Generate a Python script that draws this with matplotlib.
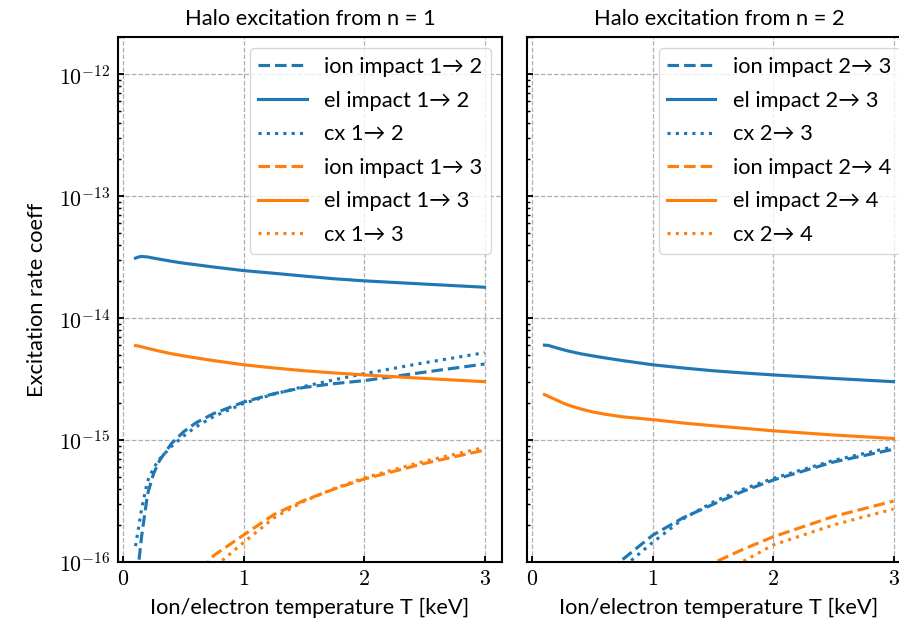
import matplotlib
matplotlib.use("Agg")
import matplotlib.pyplot as plt
from matplotlib.ticker import FuncFormatter, NullFormatter
import numpy as np

# ---------------- data ----------------
T = [0.1, 0.125, 0.15, 0.2, 0.25, 0.3, 0.4, 0.5, 0.6, 0.75, 1.0,
     1.25, 1.5, 1.75, 2.0, 2.5, 3.0]

# excitation from n = 1
ion_1_2 = [3e-17, 9.5e-17, 1.6e-16, 3.6e-16, 5.3e-16, 6.8e-16, 9.4e-16, 1.17e-15,
           1.38e-15, 1.65e-15, 2.05e-15, 2.4e-15, 2.7e-15, 2.9e-15, 3.07e-15,
           3.6e-15, 4.2e-15]
el_1_2 = [3.10e-14, 3.17e-14, 3.20e-14, 3.17e-14, 3.10e-14, 3.04e-14, 2.92e-14,
          2.82e-14, 2.74e-14, 2.62e-14, 2.45e-14, 2.33e-14, 2.21e-14, 2.10e-14,
          2.02e-14, 1.90e-14, 1.79e-14]
cx_1_2 = [1.35e-16, 1.9e-16, 2.7e-16, 4.6e-16, 5.9e-16, 7.0e-16, 8.9e-16, 1.08e-15,
          1.28e-15, 1.56e-15, 2.0e-15, 2.38e-15, 2.75e-15, 3.12e-15, 3.5e-15,
          4.3e-15, 5.2e-15]
ion_1_3 = [1e-24, 1e-22, 3e-21, 1e-19, 1e-18, 4.5e-18, 2.2e-17, 4.8e-17, 7.5e-17,
           1.13e-16, 1.67e-16, 2.45e-16, 3.2e-16, 3.96e-16, 4.79e-16, 6.43e-16,
           8.27e-16]
el_1_3 = [5.95e-15, 5.9e-15, 5.82e-15, 5.65e-15, 5.5e-15, 5.35e-15, 5.1e-15,
          4.9e-15, 4.72e-15, 4.48e-15, 4.14e-15, 3.9e-15, 3.7e-15, 3.55e-15,
          3.42e-15, 3.2e-15, 3.01e-15]
cx_1_3 = [1e-25, 1e-23, 5e-22, 3e-20, 4e-19, 2.5e-18, 1.4e-17, 3.5e-17, 6e-17,
          9.0e-17, 1.45e-16, 2.3e-16, 3.15e-16, 4.0e-16, 4.9e-16, 6.7e-16, 8.7e-16]

# excitation from n = 2
ion_2_3 = [1e-24, 1e-22, 3e-21, 1e-19, 1e-18, 4.5e-18, 2.2e-17, 5e-17, 7.8e-17,
           1.05e-16, 1.66e-16, 2.3e-16, 2.97e-16, 3.8e-16, 4.7e-16, 6.6e-16, 8.4e-16]
el_2_3 = [6.0e-15, 5.98e-15, 5.9e-15, 5.7e-15, 5.52e-15, 5.36e-15, 5.1e-15,
          4.9e-15, 4.72e-15, 4.48e-15, 4.14e-15, 3.9e-15, 3.7e-15, 3.55e-15,
          3.42e-15, 3.2e-15, 3.01e-15]
cx_2_3 = [1e-25, 1e-23, 5e-22, 3e-20, 4e-19, 2.5e-18, 1.4e-17, 3.5e-17, 6e-17,
          9.0e-17, 1.45e-16, 2.25e-16, 3.1e-16, 3.95e-16, 4.85e-16, 6.8e-16, 8.8e-16]
ion_2_4 = [1e-30, 1e-28, 1e-26, 1e-24, 1e-22, 1e-21, 3e-20, 4e-19, 2.5e-18,
           1e-17, 3.3e-17, 6.5e-17, 9.8e-17, 1.27e-16, 1.61e-16, 2.36e-16, 3.16e-16]
el_2_4 = [2.36e-15, 2.3e-15, 2.24e-15, 2.13e-15, 2.02e-15, 1.93e-15, 1.8e-15,
          1.7e-15, 1.63e-15, 1.55e-15, 1.47e-15, 1.38e-15, 1.31e-15, 1.25e-15,
          1.19e-15, 1.1e-15, 1.03e-15]
cx_2_4 = [1e-31, 1e-29, 1e-27, 1e-25, 1e-23, 1e-22, 5e-21, 1e-19, 1e-18,
          6e-18, 1.8e-17, 3.5e-17, 6.6e-17, 1.01e-16, 1.38e-16, 2.01e-16, 2.72e-16]

titles = ["Halo excitation from n = 1", "Halo excitation from n = 2"]
xticks = [0, 1, 2, 3]
yticks = [1e-16, 1e-15, 1e-14, 1e-13, 1e-12]
xlabel = "Ion/electron temperature T [keV]"
ylabel = "Excitation rate coeff"

panels = [
    [(ion_1_2, "ion impact 1→ 2"), (el_1_2, "el impact 1→ 2"),
     (cx_1_2, "cx 1→ 2"), (ion_1_3, "ion impact 1→ 3"),
     (el_1_3, "el impact 1→ 3"), (cx_1_3, "cx 1→ 3")],
    [(ion_2_3, "ion impact 2→ 3"), (el_2_3, "el impact 2→ 3"),
     (cx_2_3, "cx 2→ 3"), (ion_2_4, "ion impact 2→ 4"),
     (el_2_4, "el impact 2→ 4"), (cx_2_4, "cx 2→ 4")],
]
colors = ["#1f77b4", "#1f77b4", "#1f77b4", "#ff7f0e", "#ff7f0e", "#ff7f0e"]
styles = ["--", "-", ":", "--", "-", ":"]

# ---------------- style ----------------
plt.rcParams["font.family"] = ["Lato", "DejaVu Sans"]
plt.rcParams["mathtext.fontset"] = "cm"
plt.rcParams["font.size"] = 10.5

fig = plt.figure(figsize=(899 / 150, 629 / 150), dpi=150)
ax1 = fig.add_axes([0.1313, 0.1065, 0.4271, 0.834])
ax2 = fig.add_axes([0.5862, 0.1065, 0.4271, 0.834], sharey=ax1)

xfmt = FuncFormatter(lambda v, p: "$%g$" % v)
yfmt = FuncFormatter(lambda v, p: "$10^{%d}$" % int(round(np.log10(v))))

for i, ax in enumerate([ax1, ax2]):
    for (vals, lab), c, ls in zip(panels[i], colors, styles):
        ax.plot(T, vals, color=c, linestyle=ls, linewidth=1.5, label=lab)
    ax.set_yscale("log")
    ax.set_yticks(yticks)
    ax.set_ylim(1e-16, 2e-12)
    ax.set_xticks(xticks)
    ax.xaxis.set_major_formatter(xfmt)
    ax.yaxis.set_major_formatter(yfmt)
    ax.yaxis.set_minor_formatter(NullFormatter())
    ax.grid(True, which="major", linestyle="--", color="#b0b0b0", linewidth=0.6)
    ax.tick_params(which="major", direction="in", length=2.8, width=0.9,
                   top=False, right=False, labelsize=10.5)
    ax.tick_params(which="minor", direction="in", length=1.6, width=0.7,
                   top=False, right=False)
    ax.tick_params(axis="x", which="minor", bottom=False)
    for s in ax.spines.values():
        s.set_linewidth(1.0)
    ax.set_title(titles[i], fontsize=10.5)
    ax.set_xlabel(xlabel, fontsize=10.5)
    leg = ax.legend(loc="upper right", fontsize=10.5, handlelength=2.2,
                    framealpha=0.8, fancybox=True, labelspacing=0.62)
    leg.get_frame().set_linewidth(0.6)

ax1.set_ylabel(ylabel, fontsize=10.5, labelpad=6)
ax2.tick_params(axis="y", labelleft=False)

fig.savefig("out.png", dpi=150)
